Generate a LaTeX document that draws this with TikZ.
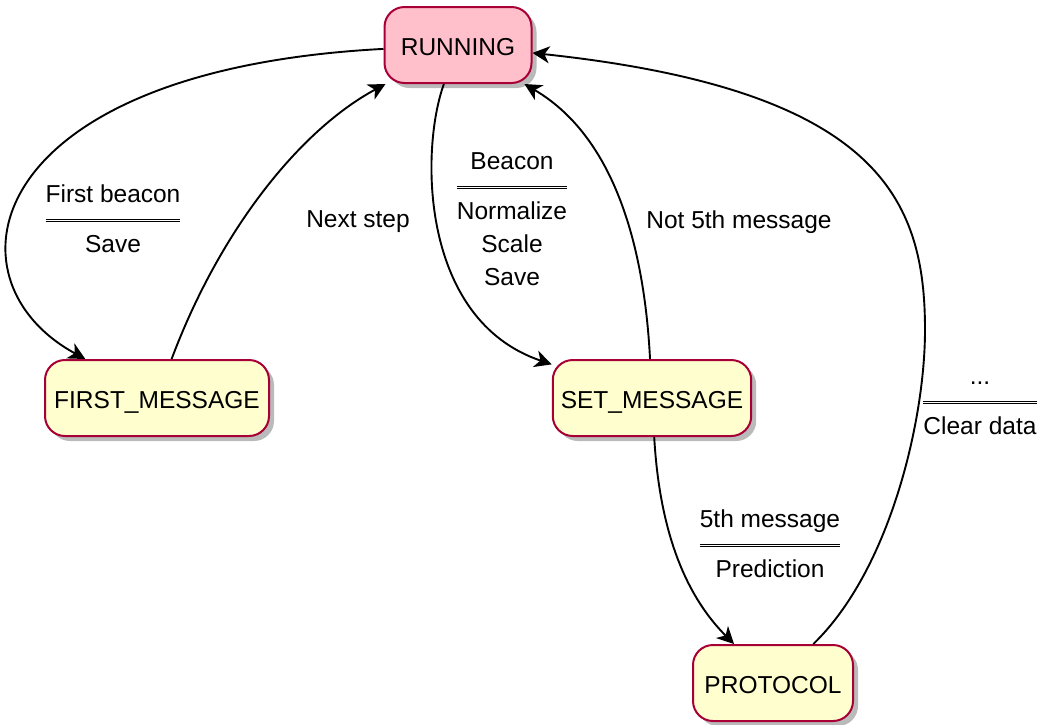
\documentclass[tikz,border=0pt]{standalone}
\usepackage{fontspec}
\setmainfont{Liberation Sans}
\usetikzlibrary{arrows.meta,shadows}
\definecolor{umlborder}{HTML}{A80036}
\definecolor{umlyellow}{HTML}{FEFECE}
\definecolor{umlpink}{HTML}{FFC0CB}
\setlength{\arrayrulewidth}{1.2pt}
\setlength{\doublerulesep}{2.4pt}
\newcommand{\guard}[2]{\begin{tabular}{@{}c@{}}#1\\[6pt]\hline\hline\rule{0pt}{30pt}#2\end{tabular}}
\tikzset{
  state/.style={draw=umlborder, line width=2pt, fill=umlyellow, rounded corners=20pt,
    minimum height=76pt, inner xsep=8pt, text height=21pt, text depth=0pt,
    drop shadow={shadow xshift=5pt, shadow yshift=-5pt, fill=black!60, opacity=.45}},
  lbl/.style={inner sep=0pt},
  trans/.style={line width=1.9pt, -{Stealth[length=17pt,width=17pt,inset=5pt]}}
}
\begin{document}
\begin{tikzpicture}[x=1pt,y=-1pt,font=\fontsize{24.5}{33}\selectfont]
  \useasboundingbox (0,0) rectangle (1043,724);
  \node (running)  at (458,45)  [state, fill=umlpink, minimum width=147pt] {RUNNING};
  \node (firstmsg) at (157,398) [state, minimum width=224pt] {FIRST\_MESSAGE};
  \node (setmsg)   at (652,398) [state, minimum width=195pt] {SET\_MESSAGE};
  \node (protocol) at (773,683) [state, minimum width=160pt] {PROTOCOL};

  \node (lfirst)  at (113,221) [lbl] {\guard{First beacon}{Save}};
  \node (lnext)   at (358,222) [lbl] {Next step};
  \node (lbeacon) at (512,221) [lbl] {\guard{Beacon}{Normalize\\Scale\\Save}};
  \node (lnot)    at (739,222) [lbl] {Not 5th message};
  \node (lfifth)  at (770,546) [lbl] {\guard{5th message}{Prediction}};
  \node (lclear)  at (980,403) [lbl] {\guard{...}{Clear data}};

  \coordinate (bend) at (925,330);

  \draw[trans] (running) .. controls (-20,70) and (-60,280) .. (firstmsg);
  \draw[trans] (firstmsg) .. controls (220,230) and (300,130) .. (running);
  \draw[trans] (running) .. controls (420,150) and (420,320) .. (setmsg);
  \draw[trans] (setmsg) .. controls (645,260) and (620,140) .. (running);
  \draw[trans] (setmsg) .. controls (660,540) and (690,600) .. (protocol);
  \draw[trans] (protocol) .. controls (890,570) and (925,420) .. (bend)
    .. controls (925,200) and (880,90) .. (running);
\end{tikzpicture}
\end{document}
